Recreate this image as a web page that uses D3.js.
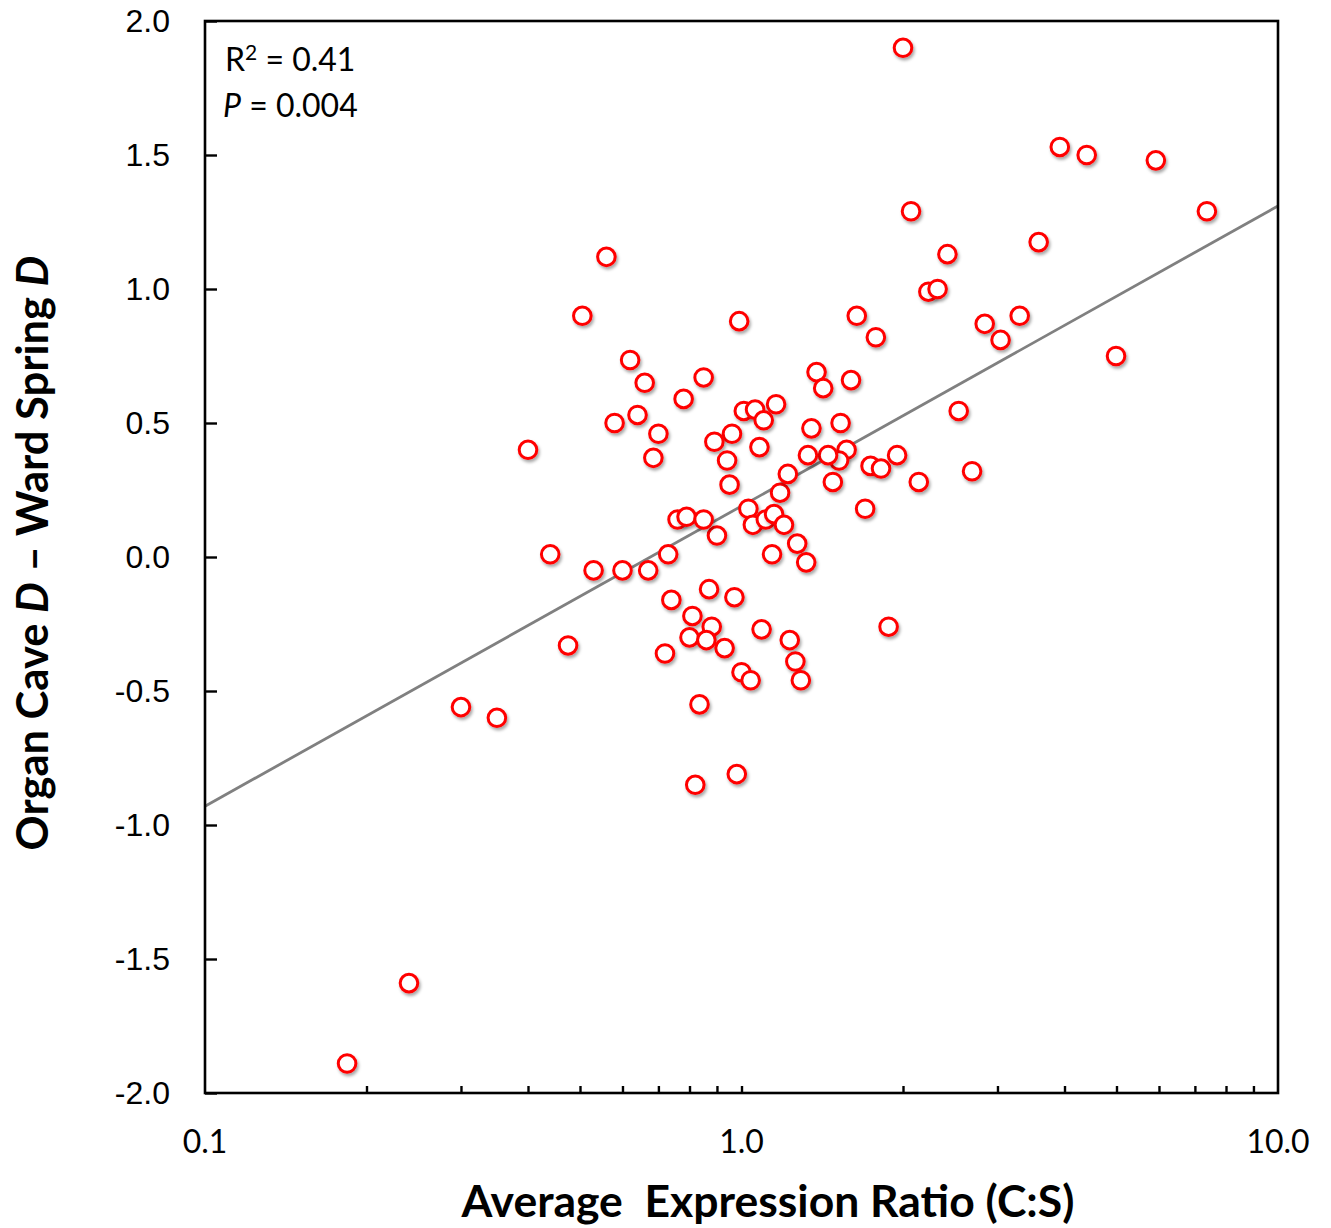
<!DOCTYPE html>
<html><head><meta charset="utf-8">
<script src="https://cdn.jsdelivr.net/npm/d3@7"></script>
<style>body{margin:0;background:#fff}</style>
</head><body>
<svg id="c" width="1331" height="1228"></svg>
<script>
// Average expression ratio (C:S)
const ratio = [2.00,2.07,3.92,4.40,5.92,7.37,3.58,2.42,2.23,2.32,1.64,1.78,2.84,3.30,3.04,4.99,1.60,2.54,1.53,1.57,
 1.52,1.45,1.33,1.35,1.38,1.42,1.74,1.82,1.95,2.14,2.69,1.70,1.48,1.18,1.22,1.16,1.01,1.06,1.10,1.08,
 0.99,0.96,0.89,0.94,0.95,1.03,1.05,1.11,1.15,1.20,1.14,1.27,1.32,0.90,0.76,0.79,0.85,0.73,0.85,0.78,
 0.66,0.62,0.64,0.58,0.70,0.685,0.56,0.505,0.40,0.44,0.53,0.60,0.67,0.87,0.74,0.97,0.81,0.88,1.88,0.475,
 0.80,0.86,0.93,1.09,1.23,0.72,1.26,1.00,1.04,1.29,0.835,0.98,0.82,0.30,0.35,0.24,0.184];
// Organ Cave D - Ward Spring D
const diffD = [1.90,1.29,1.53,1.50,1.48,1.29,1.175,1.13,0.99,1.00,0.90,0.82,0.87,0.90,0.81,0.75,0.66,0.545,0.50,0.40,
 0.36,0.38,0.38,0.48,0.69,0.63,0.34,0.33,0.38,0.28,0.32,0.18,0.28,0.24,0.31,0.57,0.545,0.55,0.51,0.41,
 0.88,0.46,0.43,0.36,0.27,0.18,0.12,0.14,0.16,0.12,0.01,0.05,-0.02,0.08,0.14,0.15,0.14,0.01,0.67,0.59,
 0.65,0.735,0.53,0.50,0.46,0.37,1.12,0.90,0.40,0.01,-0.05,-0.05,-0.05,-0.12,-0.16,-0.15,-0.22,-0.26,-0.26,-0.33,
 -0.30,-0.31,-0.34,-0.27,-0.31,-0.36,-0.39,-0.43,-0.46,-0.46,-0.55,-0.81,-0.85,-0.56,-0.60,-1.59,-1.89];
// fitted trend: y = intercept + slope * log10(x)
const trendIntercept = 0.19;
const trendSlope = 1.12;
const trendX = [0.1,10];
const xTickLabels = ["0.1","1.0","10.0"];
const xTickValues = [0.1,1,10];
const xMinorTicks = [0.2,0.3,0.4,0.5,0.6,0.7,0.8,0.9,1,2,3,4,5,6,7,8,9];
const yTickValues = [-2,-1.5,-1,-0.5,0,0.5,1,1.5,2];
const yTickLabels = ["-2.0","-1.5","-1.0","-0.5","0.0","0.5","1.0","1.5","2.0"];

const svg = d3.select("#c");
const L=205,T=21,R=1278,B=1093;
const x = d3.scaleLog().domain([0.1,10]).range([L,R]);
const y = d3.scaleLinear().domain([-2,2]).range([B,T]);

const defs = svg.append("defs");
const f = defs.append("filter").attr("id","sh").attr("x","-50%").attr("y","-50%").attr("width","200%").attr("height","200%");
f.append("feDropShadow").attr("dx",1.5).attr("dy",2.5).attr("stdDeviation",1.6).attr("flood-color","#000").attr("flood-opacity",0.35);

// trend line
const tl = d3.line().x(d=>x(d)).y(d=>y(trendIntercept+trendSlope*Math.log10(d)));
svg.append("path").datum(trendX).attr("d",tl).attr("fill","none").attr("stroke","#808080").attr("stroke-width",2.8);

// points
svg.append("g").selectAll("circle").data(ratio.map((r,i)=>[r,diffD[i]])).join("circle")
 .attr("cx",d=>x(d[0])).attr("cy",d=>y(d[1])).attr("r",8.8)
 .attr("fill","#fff").attr("stroke","#ff0000").attr("stroke-width",3).attr("filter","url(#sh)");

// frame
svg.append("rect").attr("x",L).attr("y",T).attr("width",R-L).attr("height",B-T)
 .attr("fill","none").attr("stroke","#000").attr("stroke-width",2.6);

// x axis ticks (inside)
const xa = d3.axisBottom(x).tickValues(xMinorTicks).tickSize(-7).tickFormat("");
const gx = svg.append("g").attr("transform",`translate(0,${B})`).call(xa);
gx.select(".domain").remove();
gx.selectAll("line").attr("stroke","#000").attr("stroke-width",2.4);
svg.append("g").selectAll("text").data(xTickValues).join("text")
 .attr("x",d=>x(d)).attr("y",1153).attr("text-anchor","middle")
 .attr("font-family","Lato, sans-serif").attr("font-size",32).attr("fill","#000")
 .text((d,i)=>xTickLabels[i]);

// y axis
const ya = d3.axisLeft(y).tickValues(yTickValues).tickSize(-12)
 .tickFormat((d,i)=>yTickLabels[i]).tickPadding(35);
const gy = svg.append("g").attr("transform",`translate(${L},0)`).call(ya);
gy.select(".domain").remove();
gy.selectAll("line").attr("stroke","#000").attr("stroke-width",2.4);
gy.selectAll("text").attr("font-family","'Liberation Sans', Arial, sans-serif").attr("font-size",32).attr("fill","#000");

// annotations
const ann = svg.append("g").attr("font-family","Lato, sans-serif").attr("font-size",32).attr("fill","#000");
const t1 = ann.append("text").attr("x",225).attr("y",71);
t1.append("tspan").text("R");
t1.append("tspan").text("2").attr("font-size",21).attr("dy",-11);
t1.append("tspan").text(" = 0.41").attr("dy",11);
const t2 = ann.append("text").attr("x",223).attr("y",117);
t2.append("tspan").text("P").attr("font-style","italic");
t2.append("tspan").text(" = 0.004");

function fit(sel, w){ const l = sel.node().getComputedTextLength(); const fs=+sel.attr("font-size"); sel.attr("font-size", fs*w/l); }

// x title
const xt = svg.append("text").attr("x",768).attr("y",1217).attr("text-anchor","middle")
 .attr("font-family","Lato, sans-serif").attr("font-weight","bold").attr("font-size",42).attr("fill","#000")
 .attr("xml:space","preserve").style("white-space","pre")
 .text("Average  Expression Ratio (C:S)");
fit(xt,613);

// y title
const yt = svg.append("text").attr("transform","translate(48,553) rotate(-90)").attr("text-anchor","middle")
 .attr("font-family","Lato, sans-serif").attr("font-weight","bold").attr("font-size",40).attr("fill","#000");
yt.append("tspan").text("Organ Cave ");
yt.append("tspan").text("D").attr("font-style","italic");
yt.append("tspan").text(" – Ward Spring ");
yt.append("tspan").text("D").attr("font-style","italic");
fit(yt,595);
</script>
</body></html>
